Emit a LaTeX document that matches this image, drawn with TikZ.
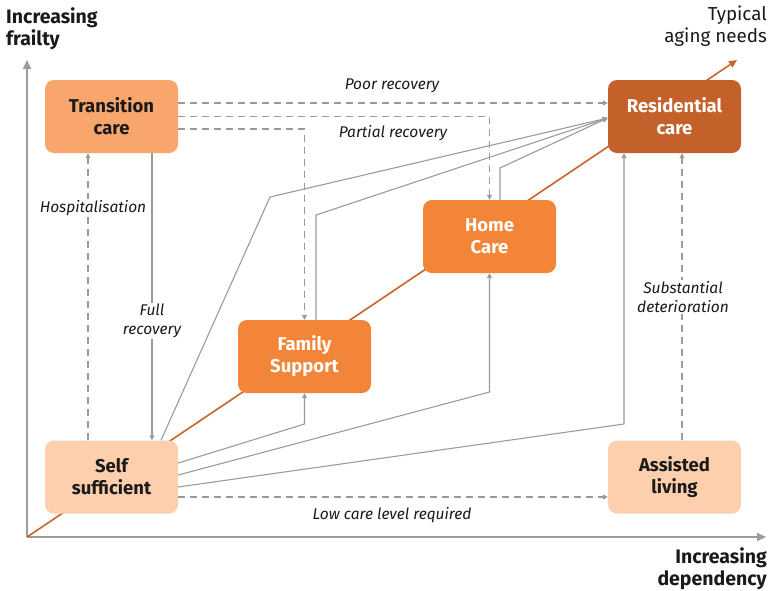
\documentclass[tikz,border=0pt]{standalone}
\usepackage{fontspec}
\setmainfont{Fira Sans}
\usetikzlibrary{arrows.meta,calc}
\definecolor{tcfill}{HTML}{F8A66C}
\definecolor{resfill}{HTML}{C4602A}
\definecolor{midfill}{HTML}{F28537}
\definecolor{palefill}{HTML}{FDCFAD}
\definecolor{cgray}{HTML}{9B9B9B}
\definecolor{orline}{HTML}{C8632B}
\definecolor{txt}{HTML}{1A1A1A}
\begin{document}
\begin{tikzpicture}[x=1pt,y=-1pt,
  box/.style={rounded corners=9pt, minimum width=133pt, minimum height=73pt, inner sep=0pt,
    align=center, font=\bfseries\fontsize{18.5}{22}\selectfont},
  conn/.style={draw=cgray, line width=1.1pt, -{Triangle[length=5pt,width=5pt]}},
  dconn/.style={conn, dash pattern=on 7pt off 5pt},
  lab/.style={font=\itshape\fontsize{15.5}{19}\selectfont, inner sep=1pt, text=txt, align=center},
  axis/.style={draw=cgray, line width=2pt, -{Triangle[length=9pt,width=8pt]}},
  axlab/.style={inner sep=0pt, text=txt, font=\bfseries\fontsize{19.5}{22}\selectfont}]
\useasboundingbox (0,0) rectangle (768,590);
% axes and typical path
\coordinate (origin) at (27,537);
\coordinate (ytip) at (27,60);
\coordinate (xtip) at (766,537);
\coordinate (otip) at (737,60);
\draw[axis] (origin) -- (ytip);
\draw[axis] (origin) -- (xtip);
\draw[orline, line width=1.6pt, -{Triangle[length=8pt,width=7pt]}] (origin) -- (otip);
% nodes
\node[box, fill=tcfill, text=txt] (tc) at (111.5,116.5) {Transition\\care};
\node[box, fill=resfill, text=white] (res) at (674.5,116.5) {Residential\\care};
\node[box, fill=midfill, text=white] (hc) at (489.5,236.5) {Home\\Care};
\node[box, fill=midfill, text=white] (fs) at (304.5,356.5) {Family\\Support};
\node[box, fill=palefill, text=txt] (ss) at (111.5,477) {Self\\sufficient};
\node[box, fill=palefill, text=txt] (al) at (674.5,477) {Assisted\\living};
% axis labels
\node[axlab, anchor=north west, align=left] (fr) at (6,7) {Increasing\\frailty};
\node[axlab, anchor=north east, align=right, font=\fontsize{18.8}{22}\selectfont] (ty) at (767,6) {Typical\\aging needs};
\node[axlab, anchor=south east, align=right] (dep) at (767,590) {Increasing\\dependency};
% dashed connectors
\draw[dconn] ([yshift=13.5pt]tc.east) -- ([yshift=13.5pt]res.west);
\node[lab] (poor) at (392,86) {Poor recovery};
\draw[dconn] (tc.east) -| (hc.north);
\node[lab] (partial) at (393,133) {Partial recovery};
\draw[dconn] ([yshift=-12.5pt]tc.east) -| (fs.north);
\draw[dconn] ([xshift=-23.5pt]ss.north) -- ([xshift=-23.5pt]tc.south);
\node[lab, fill=white] (hosp) at (93,208) {Hospitalisation};
\draw[dconn] ([yshift=-20pt]ss.east) -- ([yshift=-20pt]al.west);
\node[lab] (low) at (392,515) {Low care level required};
\draw[dconn] ([xshift=7.5pt]al.north) -- ([xshift=7.5pt]res.south);
\node[lab, fill=white] (subst) at (683,297) {Substantial\\deterioration};
% solid connectors
\draw[conn] ([xshift=40.5pt]tc.south) -- ([xshift=40.5pt]ss.north);
\node[lab, fill=white] (full) at (152,321) {Full\\recovery};
\coordinate (resin) at ([yshift=-1.5pt]res.west);
\coordinate (b1) at (270,197);
\coordinate (b2) at (316,215);
\coordinate (b3) at (500,168);
\coordinate (b4) at (304.5,424);
\coordinate (b5) at (489.5,392);
\coordinate (b6) at (624,424);
\draw[conn] ([xshift=49.5pt]ss.north) -- (b1) -- (resin);
\draw[conn] ([xshift=11.5pt]fs.north) -- (b2) -- (resin);
\draw[conn] ([xshift=10.5pt]hc.north) -- (b3) -- (resin);
\draw[conn] ([yshift=14pt]ss.east) -- (b4) -- (fs.south);
\draw[conn] ([yshift=2pt]ss.east) -- (b5) -- (hc.south);
\draw[conn] ([yshift=-10pt]ss.east) -- (b6) -- ([xshift=-50.5pt]res.south);
\end{tikzpicture}
\end{document}
